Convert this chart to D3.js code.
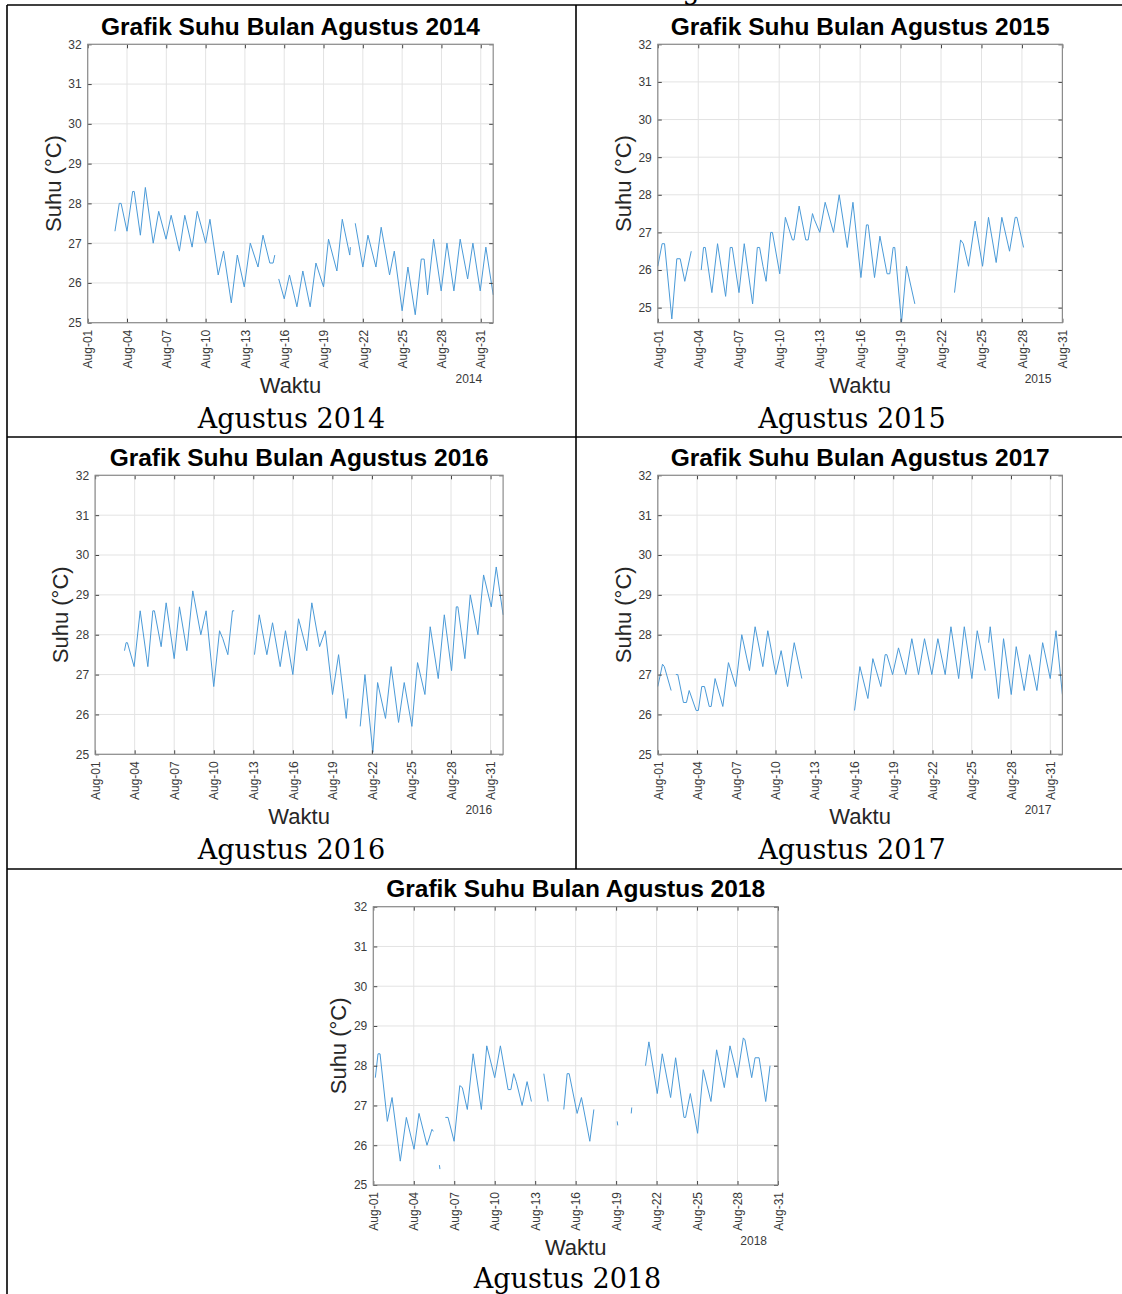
<!DOCTYPE html>
<html>
<head>
<meta charset="utf-8">
<script src="https://cdn.jsdelivr.net/npm/d3@7"></script>
<style>
body { margin: 0; background: #fff; }
svg { display: block; }
</style>
</head>
<body>
<svg width="1122" height="1294"></svg>
<script>
var years = [2014, 2015, 2016, 2017, 2018];
var tickDays = [1, 4, 7, 10, 13, 16, 19, 22, 25, 28, 31];
var tempTicks = [25, 26, 27, 28, 29, 30, 31, 32];

// every inner array is one unbroken run of readings: [day of August, suhu °C]
var suhu2014 = [
  [[3.08,27.3],[3.41,28.0],[3.55,28.0],[4.0,27.3],[4.43,28.3],[4.55,28.3],[5.02,27.2],[5.4,28.4],[6.0,27.0],[6.42,27.8],[6.98,27.1],[7.37,27.7],[8.0,26.8],[8.41,27.7],[8.97,26.9],[9.36,27.8],[9.85,27.2],[10.0,27.0],[10.33,27.6],[10.96,26.2],[11.37,26.8],[11.96,25.5],[12.42,26.7],[12.95,25.9],[13.41,27.0],[14.0,26.4],[14.38,27.2],[14.9,26.5],[15.15,26.5],[15.28,26.7]],
  [[15.58,26.1],[16.0,25.6],[16.4,26.2],[16.97,25.4],[17.42,26.3],[17.98,25.4],[18.42,26.5],[19.0,25.9],[19.38,27.1],[20.02,26.3],[20.43,27.6],[21.0,26.7],[21.05,26.9]],
  [[21.42,27.5],[22.0,26.4],[22.39,27.2],[23.0,26.4],[23.4,27.4],[24.04,26.2],[24.4,26.8],[25.0,25.3],[25.44,26.4],[26.0,25.2],[26.46,26.6],[26.68,26.6],[26.94,25.7],[27.4,27.1],[27.98,25.8],[28.42,27.0],[28.95,25.8],[29.43,27.1],[30.0,26.1],[30.4,27.0],[30.96,25.8],[31.39,26.9],[31.95,25.7]]
];

var suhu2015 = [
  [[1.0,26.1],[1.32,26.7],[1.5,26.7],[2.04,24.7],[2.41,26.3],[2.66,26.3],[3.0,25.7],[3.48,26.5]],
  [[4.22,26.0],[4.39,26.6],[4.52,26.6],[5.01,25.4],[5.43,26.7],[6.03,25.3],[6.37,26.6],[6.52,26.6],[7.02,25.4],[7.41,26.7],[8.03,25.1],[8.38,26.6],[8.55,26.6],[8.8,26.1],[9.03,25.7],[9.37,27.0],[9.5,27.0],[10.04,25.9],[10.46,27.4],[10.98,26.8],[11.1,26.8],[11.48,27.7],[11.97,26.8],[12.15,26.8],[12.47,27.5],[12.6,27.35],[13.01,27.0],[13.41,27.8],[14.03,27.0],[14.45,28.0],[15.05,26.6],[15.47,27.8],[16.06,25.8],[16.47,27.2],[16.6,27.2],[17.07,25.8],[17.47,26.9],[18.0,25.9],[18.2,25.9],[18.45,26.6],[18.57,26.6],[19.07,24.6],[19.44,26.1],[20.06,25.1]],
  [[23.0,25.4],[23.45,26.8],[23.65,26.7],[24.04,26.1],[24.53,27.3],[25.08,26.1],[25.52,27.4],[26.09,26.2],[26.51,27.4],[27.08,26.5],[27.5,27.4],[27.63,27.4],[28.12,26.6]]
];

var suhu2016 = [
  [[3.23,27.6],[3.35,27.8],[3.45,27.8],[3.96,27.2],[4.42,28.6],[5.0,27.2],[5.38,28.6],[5.5,28.6],[6.01,27.7],[6.39,28.8],[7.0,27.4],[7.4,28.7],[7.96,27.6],[8.41,29.1],[9.02,28.0],[9.42,28.6],[10.0,26.7],[10.44,28.1],[10.69,27.9],[11.07,27.5],[11.42,28.6],[11.55,28.6]],
  [[13.09,27.5],[13.45,28.5],[14.03,27.5],[14.46,28.3],[15.04,27.2],[15.44,28.1],[16.0,27.0],[16.43,28.4],[17.06,27.6],[17.44,28.8],[18.03,27.7],[18.46,28.1],[19.01,26.5],[19.47,27.5],[20.05,25.9],[20.18,26.4]],
  [[21.11,25.7],[21.47,27.0],[22.07,25.05],[22.43,26.8],[23.03,25.9],[23.46,27.2],[24.02,25.8],[24.45,26.8],[25.03,25.7],[25.46,27.3],[26.02,26.5],[26.42,28.2],[27.03,26.9],[27.49,28.5],[28.04,27.1],[28.4,28.7],[28.52,28.7],[29.05,27.4],[29.46,29.0],[30.04,28.0],[30.47,29.5],[31.05,28.7],[31.43,29.7],[31.95,28.5]]
];

var suhu2017 = [
  [[1.0,26.7],[1.36,27.26],[1.5,27.2],[2.02,26.6]],
  [[2.38,27.0],[2.53,27.0],[2.96,26.3],[3.19,26.3],[3.4,26.6],[3.93,26.1],[4.1,26.1],[4.36,26.7],[4.57,26.7],[4.93,26.2],[5.08,26.2],[5.38,26.9],[5.97,26.2],[6.4,27.3],[6.96,26.7],[7.42,28.0],[8.01,27.1],[8.44,28.2],[9.03,27.2],[9.41,28.1],[10.02,27.0],[10.43,27.6],[10.92,26.7],[11.43,27.8],[12.01,26.9]],
  [[16.04,26.1],[16.45,27.2],[17.06,26.4],[17.44,27.4],[18.05,26.7],[18.38,27.5],[18.51,27.5],[18.95,27.0],[19.4,27.67],[19.96,27.0],[20.42,27.9],[20.93,27.0],[21.39,27.9],[21.95,27.0],[22.41,27.9],[22.97,27.0],[23.41,28.2],[24.0,26.9],[24.43,28.2],[25.01,26.9],[25.42,28.1],[26.03,27.1]],
  [[26.29,27.8],[26.41,28.2],[27.05,26.4],[27.43,27.9],[28.02,26.5],[28.4,27.7],[29.01,26.6],[29.42,27.5],[29.98,26.6],[30.42,27.8],[31.0,26.9],[31.44,28.1],[31.93,26.5]]
];

var suhu2018 = [
  [[1.15,27.7],[1.35,28.3],[1.5,28.3],[2.04,26.6],[2.39,27.2],[3.0,25.6],[3.45,26.7],[4.02,25.9],[4.39,26.8],[4.98,26.0],[5.35,26.4],[5.45,26.35]],
  [[5.9,25.5],[5.94,25.4]],
  [[6.34,26.7],[6.54,26.7],[6.99,26.1],[7.41,27.5],[7.6,27.45],[7.97,26.9],[8.4,28.3],[9.01,26.9],[9.41,28.5],[10.0,27.7],[10.42,28.5],[10.99,27.4],[11.2,27.4],[11.41,27.8],[11.6,27.6],[12.03,27.0],[12.4,27.6],[12.72,27.1]],
  [[13.64,27.8],[13.96,27.1]],
  [[15.12,26.9],[15.37,27.8],[15.52,27.8],[16.11,26.8],[16.43,27.2],[17.05,26.1],[17.35,26.9]],
  [[19.08,26.6],[19.12,26.5]],
  [[20.12,26.8],[20.16,26.95]],
  [[21.18,28.0],[21.43,28.6],[22.05,27.3],[22.42,28.3],[23.04,27.2],[23.41,28.2],[24.03,26.7],[24.15,26.7],[24.5,27.3],[25.04,26.3],[25.46,27.9],[26.03,27.1],[26.45,28.4],[27.02,27.45],[27.44,28.5],[27.8,28.0],[27.98,27.7],[28.43,28.7],[28.55,28.65],[29.05,27.7],[29.3,28.2],[29.6,28.2],[30.09,27.1],[30.41,28.0]]
];

var panels = [
  {data: suhu2014, left: 87.7,  top: 44.3,  w: 405.5, h: 278.4, yMin: 25,   dayMax: 31.95, cellX: 291.5, capY: 428},
  {data: suhu2015, left: 657.8, top: 44.3,  w: 404.6, h: 278.4, yMin: 24.6, dayMax: 31,    cellX: 852,   capY: 428},
  {data: suhu2016, left: 95.1,  top: 475.3, w: 408,   h: 279,   yMin: 25,   dayMax: 31.95, cellX: 291.5, capY: 859},
  {data: suhu2017, left: 657.8, top: 475.3, w: 404.6, h: 279,   yMin: 25,   dayMax: 31.93, cellX: 852,   capY: 859},
  {data: suhu2018, left: 373.3, top: 906.7, w: 404.7, h: 278.3, yMin: 25,   dayMax: 31,    cellX: 567.5, capY: 1288}
];

var svg = d3.select("svg");
var sans = "'Liberation Sans', Arial, Helvetica, sans-serif";
var serif = "'DejaVu Serif', serif";

// table frame
var frame = svg.append("g").attr("stroke", "#000").attr("stroke-width", 1.6);
frame.append("line").attr("x1", 7).attr("x2", 1122).attr("y1", 5).attr("y2", 5);
frame.append("line").attr("x1", 7).attr("x2", 7).attr("y1", 5).attr("y2", 1294);
frame.append("line").attr("x1", 576).attr("x2", 576).attr("y1", 5).attr("y2", 869);
frame.append("line").attr("x1", 7).attr("x2", 1122).attr("y1", 437).attr("y2", 437);
frame.append("line").attr("x1", 7).attr("x2", 1122).attr("y1", 869).attr("y2", 869);

// header row text, cut off at the top of the page
svg.append("text").attr("x", 663).attr("y", -1)
  .style("font-family", serif).style("font-size", "27px").text("Agustus");

function drawPanel(p, i) {
  var year = years[i];
  var g = svg.append("g").attr("transform", "translate(" + p.left + "," + p.top + ")");

  var x = d3.scaleLinear().domain([1, p.dayMax]).range([0, p.w]);
  var y = d3.scaleLinear().domain([p.yMin, 32]).range([p.h, 0]);

  // grid
  g.append("g").selectAll("line").data(tickDays).enter().append("line")
    .attr("x1", function(d) { return x(d); }).attr("x2", function(d) { return x(d); })
    .attr("y1", 0).attr("y2", p.h)
    .attr("stroke", "#e3e3e3").attr("stroke-width", 1);
  g.append("g").selectAll("line").data(tempTicks).enter().append("line")
    .attr("x1", 0).attr("x2", p.w)
    .attr("y1", function(d) { return y(d); }).attr("y2", function(d) { return y(d); })
    .attr("stroke", "#e3e3e3").attr("stroke-width", 1);

  // the series, one path per run of readings
  var line = d3.line()
    .x(function(d) { return x(d[0]); })
    .y(function(d) { return y(d[1]); });
  g.append("g").selectAll("path").data(p.data).enter().append("path")
    .attr("d", line)
    .attr("fill", "none")
    .attr("stroke", "#4a9ad8")
    .attr("stroke-width", 1)
    .attr("stroke-linejoin", "round");

  // axes, ticks inward on all four sides like MATLAB
  var ax = d3.axisBottom(x).tickValues(tickDays).tickSizeInner(-4).tickSizeOuter(0)
    .tickFormat(function(d) { return "Aug-" + d3.format("02")(d); });
  var xa = g.append("g").attr("transform", "translate(0," + p.h + ")").call(ax);
  xa.selectAll("text")
    .attr("transform", "rotate(-90)")
    .attr("text-anchor", "end")
    .attr("x", -7).attr("y", 0).attr("dy", "0.35em");

  var ay = d3.axisLeft(y).tickValues(tempTicks).tickSizeInner(-4).tickSizeOuter(0)
    .tickPadding(6).tickFormat(d3.format("d"));
  g.append("g").call(ay);

  g.append("g").call(d3.axisTop(x).tickValues(tickDays).tickSizeInner(-4).tickSizeOuter(0).tickFormat(""));
  g.append("g").attr("transform", "translate(" + p.w + ",0)")
    .call(d3.axisRight(y).tickValues(tempTicks).tickSizeInner(-4).tickSizeOuter(0).tickFormat(""));

  g.selectAll(".domain").remove();
  g.selectAll(".tick line").attr("stroke", "#444");
  g.selectAll(".tick text").attr("fill", "#3a3a3a")
    .style("font-family", sans).style("font-size", "12px");

  g.append("rect").attr("width", p.w).attr("height", p.h)
    .attr("fill", "none").attr("stroke", "#8c8c8c").attr("stroke-width", 1.2);

  // texts
  g.append("text").attr("x", p.w / 2).attr("y", -9.5)
    .attr("text-anchor", "middle")
    .style("font-family", sans).style("font-size", "24.5px").style("font-weight", "bold")
    .attr("fill", "#000")
    .text("Grafik Suhu Bulan Agustus " + year);

  g.append("text")
    .attr("transform", "translate(-27," + (p.h / 2) + ") rotate(-90)")
    .attr("text-anchor", "middle")
    .style("font-family", sans).style("font-size", "22px")
    .attr("fill", "#262626")
    .text("Suhu (\u00B0C)");

  g.append("text").attr("x", p.w / 2).attr("y", p.h + 70)
    .attr("text-anchor", "middle")
    .style("font-family", sans).style("font-size", "22px")
    .attr("fill", "#262626")
    .text("Waktu");

  g.append("text").attr("x", p.w - 11).attr("y", p.h + 60)
    .attr("text-anchor", "end")
    .style("font-family", sans).style("font-size", "12px")
    .attr("fill", "#3a3a3a")
    .text(year);

  svg.append("text").attr("x", p.cellX).attr("y", p.capY)
    .attr("text-anchor", "middle")
    .style("font-family", serif).style("font-size", "27px")
    .attr("fill", "#000")
    .text("Agustus " + year);
}

panels.forEach(drawPanel);
</script>
</body>
</html>
